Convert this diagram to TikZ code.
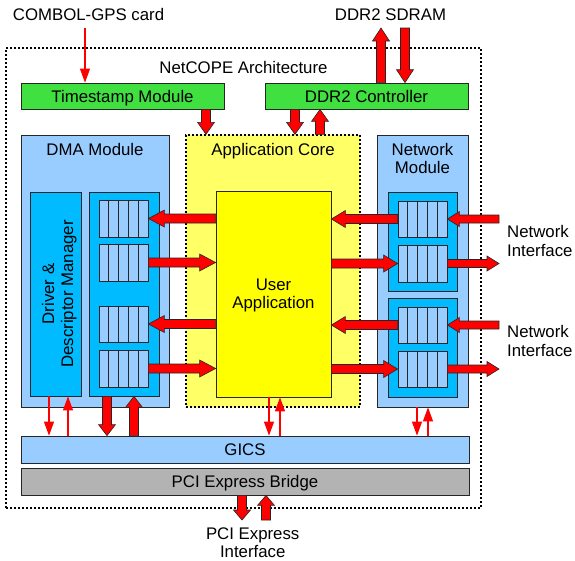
\documentclass[tikz,border=0pt]{standalone}
\usepackage{fontspec}
\setmainfont{Liberation Sans}
\usetikzlibrary{calc,fit,arrows.meta}
\definecolor{boxgreen}{HTML}{40E040}
\definecolor{lblue}{HTML}{99CCFF}
\definecolor{dblue}{HTML}{00BBFF}
\definecolor{coreyel}{HTML}{FFFF66}
\definecolor{appyel}{HTML}{FFFF00}
\definecolor{bridgegray}{HTML}{B3B3B3}
\newcommand\fatarr[5]{%
  \coordinate (fa1) at (#1); \coordinate (fa2) at (#2);
  \draw[fatarrow] ($(fa1)!#3!90:(fa2)$) -- ($(fa2)!#5!(fa1)!#3!90:(fa2)$) -- ($(fa2)!#5!(fa1)!#4!90:(fa2)$) -- (fa2) -- ($(fa2)!#5!(fa1)!#4!-90:(fa2)$) -- ($(fa2)!#5!(fa1)!#3!-90:(fa2)$) -- ($(fa1)!#3!-90:(fa2)$) -- cycle;}
\newcommand\qbox[5]{%
  \node[box, fill=lblue, fit={(#2,#3) (#4,#5)}] (#1) {};
  \foreach \qf in {0.2,0.4,0.6,0.8}
    \draw[cellline] ($(#1.north west)!\qf!(#1.north east)$) -- ($(#1.south west)!\qf!(#1.south east)$);}
\begin{document}
\begin{tikzpicture}[x=1pt,y=-1pt, font=\fontsize{16.8}{19}\selectfont,
  box/.style={draw=black!85, line width=0.8pt, inner sep=0pt},
  cellline/.style={draw=black!85, line width=0.8pt},
  txt/.style={inner sep=0pt, anchor=base},
  fatarrow/.style={fill=red, draw=black!85, line width=0.6pt, line join=miter},
  thinarrow/.style={draw=red, line width=1.1pt, -{Triangle[length=14pt,width=10pt]}}]
\useasboundingbox (0,0) rectangle (575,560);
% frames
\node[draw=black, dash pattern=on 2pt off 2pt, line width=1.6pt, inner sep=0pt, fit={(6,48) (481,508)}] (outer) {};
\node[box, fill=boxgreen, fit={(21,83) (224,109)}] (ts) {};
\node[box, fill=boxgreen, fit={(265,83) (468,109)}] (ddr) {};
\node[box, fill=lblue, fit={(21,135) (169,407)}] (dma) {};
\node[box, draw=black, fill=coreyel, dash pattern=on 2pt off 2pt, line width=1.4pt, fit={(186,135) (360,407)}] (core) {};
\node[box, fill=lblue, fit={(377,135) (468,407)}] (net) {};
\node[box, fill=dblue, fit={(30,192) (81,396)}] (drv) {};
\node[box, fill=dblue, fit={(89,192) (159,396)}] (dq) {};
\node[box, fill=appyel, fit={(216,191) (331,397)}] (app) {};
\node[box, fill=dblue, fit={(388,192) (457,291)}] (nc1) {};
\node[box, fill=dblue, fit={(388,298) (457,397)}] (nc2) {};
\node[box, fill=lblue, fit={(21,436) (469,463)}] (gics) {};
\node[box, fill=bridgegray, fit={(21,468) (469,495)}] (pci) {};
% queues
\qbox{q1}{99}{200}{148}{237}
\qbox{q2}{99}{244}{148}{281}
\qbox{q3}{99}{306}{148}{342}
\qbox{q4}{99}{350}{148}{387}
\qbox{n1}{398}{201}{447}{237}
\qbox{n2}{398}{245}{447}{282}
\qbox{n3}{398}{307}{447}{343}
\qbox{n4}{398}{351}{447}{387}
% texts
\node[txt] (tcombol) at (88.5,20) {COMBOL-GPS card};
\node[txt] (tsdram) at (390.5,20) {DDR2 SDRAM};
\node[txt] (tarch) at (243.5,73) {NetCOPE Architecture};
\node[txt] (tts) at (122.5,102) {Timestamp Module};
\node[txt] (tddr) at (366.5,102) {DDR2 Controller};
\node[txt] (tdma) at (95,155) {DMA Module};
\node[txt] (tcore) at (273,155) {Application Core};
\node[txt] (tnet1) at (422.5,155) {Network};
\node[txt] (tnet2) at (422.5,173) {Module};
\node[txt] (tapp1) at (273.5,290) {User};
\node[txt] (tapp2) at (273.5,308) {Application};
\node[txt, rotate=90] (tdrv1) at (54,294) {Driver \&};
\node[txt, rotate=90] (tdrv2) at (73,294) {Descriptor Manager};
\node[txt] (tgics) at (245,455) {GICS};
\node[txt] (tpci) at (245,487) {PCI Express Bridge};
\node[txt] (tpe1) at (252.7,539) {PCI Express};
\node[txt] (tpe2) at (252.7,557) {Interface};
\node[txt, anchor=base west] (tni1) at (507,237) {Network};
\node[txt, anchor=base west] (tni2) at (507,256) {Interface};
\node[txt, anchor=base west] (tni3) at (507,337) {Network};
\node[txt, anchor=base west] (tni4) at (507,356) {Interface};
% helper coordinates
\coordinate (ytop) at (0,28);
\coordinate (ybot) at (0,520);
\coordinate (xext) at (499,0);
\coordinate (cG) at (85,0);
\coordinate (cTS) at (206,0);
\coordinate (cDd) at (295,0);
\coordinate (cDu) at (320,0);
\coordinate (cSu) at (381,0);
\coordinate (cSd) at (405,0);
\coordinate (cT1) at (49,0);
\coordinate (cT2) at (68,0);
\coordinate (cF1) at (107,0);
\coordinate (cF2) at (134,0);
\coordinate (cA1) at (269,0);
\coordinate (cA2) at (280,0);
\coordinate (cN1) at (417,0);
\coordinate (cN2) at (428,0);
\coordinate (cP1) at (242,0);
\coordinate (cP2) at (266,0);
% thin arrows
\draw[thinarrow] (cG |- ytop) -- (cG |- ts.north);
\draw[thinarrow] (cT1 |- drv.south) -- (cT1 |- gics.north);
\draw[thinarrow] (cT2 |- gics.north) -- (cT2 |- drv.south);
\draw[thinarrow] (cA1 |- app.south) -- (cA1 |- gics.north);
\draw[thinarrow] (cA2 |- gics.north) -- (cA2 |- app.south);
\draw[thinarrow] (cN1 |- net.south) -- (cN1 |- gics.north);
\draw[thinarrow] (cN2 |- gics.north) -- (cN2 |- net.south);
% fat vertical arrows
\fatarr{cSu |- ddr.north}{cSu |- ytop}{4.5pt}{8.5pt}{13pt}
\fatarr{cSd |- ytop}{cSd |- ddr.north}{4.5pt}{8.5pt}{13pt}
\fatarr{cTS |- ts.south}{cTS |- core.north}{4.5pt}{8.5pt}{12pt}
\fatarr{cDd |- ddr.south}{cDd |- core.north}{4.5pt}{8.5pt}{12pt}
\fatarr{cDu |- core.north}{cDu |- ddr.south}{4.5pt}{8.5pt}{12pt}
\fatarr{cF1 |- dq.south}{cF1 |- gics.north}{4.5pt}{8.5pt}{11pt}
\fatarr{cF2 |- gics.north}{cF2 |- dq.south}{4.5pt}{8.5pt}{11pt}
\fatarr{cP1 |- pci.south}{cP1 |- ybot}{4.5pt}{8.5pt}{10pt}
\fatarr{cP2 |- ybot}{cP2 |- pci.south}{4.5pt}{8.5pt}{10pt}
% fat horizontal arrows, DMA side
\fatarr{app.west |- q1.east}{q1.east}{4.5pt}{8.5pt}{16pt}
\fatarr{q2.east}{app.west |- q2.east}{4.5pt}{8.5pt}{16pt}
\fatarr{app.west |- q3.east}{q3.east}{4.5pt}{8.5pt}{16pt}
\fatarr{q4.east}{app.west |- q4.east}{4.5pt}{8.5pt}{16pt}
% network side
\fatarr{n1.west}{app.east |- n1.west}{4.5pt}{8.5pt}{14pt}
\fatarr{app.east |- n2.west}{n2.west}{4.5pt}{8.5pt}{14pt}
\fatarr{n3.west}{app.east |- n3.west}{4.5pt}{8.5pt}{14pt}
\fatarr{app.east |- n4.west}{n4.west}{4.5pt}{8.5pt}{14pt}
% external network
\fatarr{n1.east -| xext}{n1.east}{4pt}{7.5pt}{12pt}
\fatarr{n2.east}{n2.east -| xext}{4pt}{7.5pt}{12pt}
\fatarr{n3.east -| xext}{n3.east}{4pt}{7.5pt}{12pt}
\fatarr{n4.east}{n4.east -| xext}{4pt}{7.5pt}{12pt}
\end{tikzpicture}
\end{document}
